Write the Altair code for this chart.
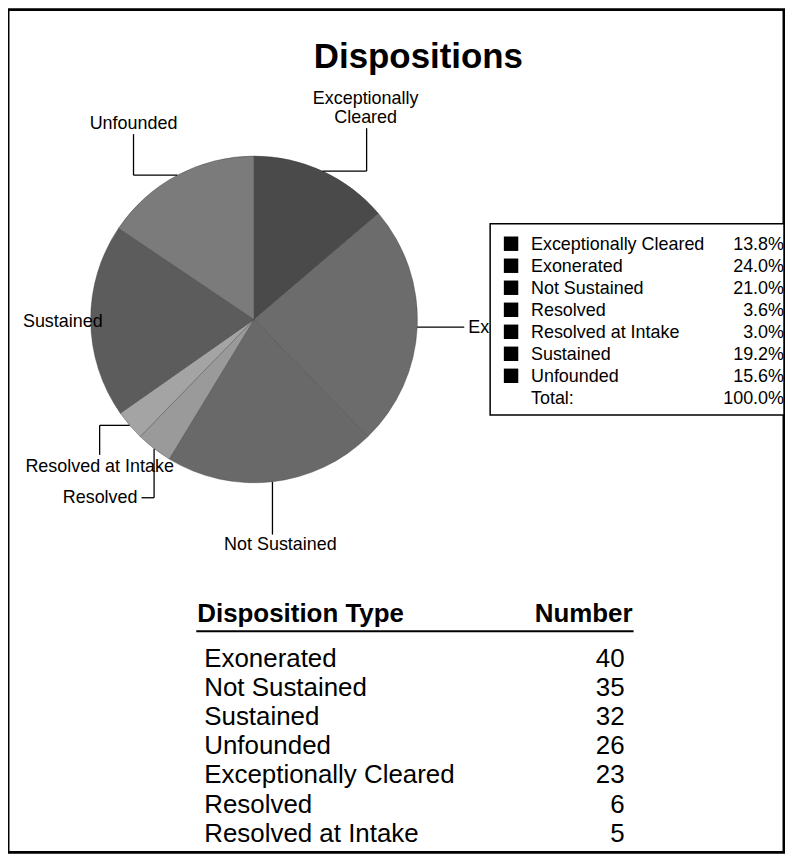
import altair as alt
import pandas as pd
import numpy as np

# ---------------- data ----------------
categories = ["Exceptionally Cleared", "Exonerated", "Not Sustained", "Resolved",
              "Resolved at Intake", "Sustained", "Unfounded"]
counts = [23, 40, 35, 6, 5, 32, 26]
shades = ["#4a4a4a", "#6c6c6c", "#696969", "#9a9a9a", "#a4a4a4", "#5c5c5c", "#7b7b7b"]
title_text = "Dispositions"
table_header = ["Disposition Type", "Number"]
total_label = "Total:"

# ---------------- layout ----------------
W, H = 779, 846
OFF = 8                      # page margin
FONT = "Liberation Sans"
CX, CY, R = 255 - OFF, 319 - OFF, 164

def P(v):
    return v - OFF

total = sum(counts)
pct = [c / total * 100 for c in counts]
cum = np.cumsum([0] + counts)
mid_deg = [(cum[i] + counts[i] / 2) / total * 360 for i in range(len(counts))]
edge = {}
for cat, a in zip(categories, mid_deg):
    r = np.radians(a)
    edge[cat] = (CX + R * np.sin(r), CY - R * np.cos(r))

# leader segments and label texts
segs = []
texts = []  # text, x, y, size, weight, align

def seg(a, b):
    segs.append({"x": a[0], "y": a[1], "x2": b[0], "y2": b[1]})

e = edge["Exceptionally Cleared"]
seg(e, (P(368), e[1])); seg((P(368), e[1]), (P(368), P(127)))
texts += [("Exceptionally", P(367), P(103), 18, "normal", "center"),
          ("Cleared", P(367), P(122), 18, "normal", "center")]

e = edge["Unfounded"]
seg(e, (P(134), e[1])); seg((P(134), e[1]), (P(134), P(133)))
texts.append(("Unfounded", P(134), P(128), 18, "normal", "center"))

e = edge["Exonerated"]
seg(e, (P(466), e[1]))
texts.append(("Exonerated", P(470), e[1] + 6, 18, "normal", "left"))

e = edge["Not Sustained"]
seg(e, (e[0], P(535)))
texts.append(("Not Sustained", e[0] + 8, P(550), 18, "normal", "center"))

texts.append(("Sustained", P(23), P(327), 18, "normal", "left"))

e = edge["Resolved at Intake"]
seg(e, (P(100), e[1])); seg((P(100), e[1]), (P(100), P(455)))
texts.append(("Resolved at Intake", P(100), P(472), 18, "normal", "center"))

e = edge["Resolved"]
seg(e, (e[0], P(498))); seg((e[0], P(498)), (P(142), P(498)))
texts.append(("Resolved", P(138), P(503), 18, "normal", "right"))

# legend box texts
leg_texts = []
leg_sq = []
for i, (cat, p) in enumerate(zip(categories, pct)):
    yc = P(243) + i * 22.1
    leg_sq.append({"x": P(513), "y": yc})
    leg_texts.append((cat, P(533), yc + 6.5, 18, "normal", "left"))
    leg_texts.append((f"{p:.1f}%", P(787), yc + 6.5, 18, "normal", "right"))
yt = P(243) + 7 * 22.1
leg_texts.append((total_label, P(533), yt + 6.5, 18, "normal", "left"))
leg_texts.append((f"{sum(pct):.1f}%", P(787), yt + 6.5, 18, "normal", "right"))

# title
title_rows = [(title_text, P(420), P(67), 35, "bold", "center")]

# table
order = sorted(range(len(categories)), key=lambda i: -counts[i])
tbl = [(table_header[0], P(198), P(623), 26, "bold", "left"),
       (table_header[1], P(635), P(623), 26, "bold", "right")]
for j, i in enumerate(order):
    yb = P(668) + j * 29.2
    tbl.append((categories[i], P(205), yb, 26, "normal", "left"))
    tbl.append((str(counts[i]), P(627), yb, 26, "normal", "right"))
segs_tbl = [{"x": P(197), "y": P(632), "x2": P(636), "y2": P(632)}]

all_texts = texts + leg_texts + title_rows + tbl
tdf = pd.DataFrame(all_texts, columns=["text", "x", "y", "size", "weight", "align"])

# ---------------- scales ----------------
XS = alt.Scale(domain=[0, W], nice=False, zero=False)
YS = alt.Scale(domain=[0, H], nice=False, zero=False, reverse=True)

def X(f="x"):
    return alt.X(f"{f}:Q", scale=XS, axis=None)

def Y(f="y"):
    return alt.Y(f"{f}:Q", scale=YS, axis=None)

# ---------------- layers ----------------
pie_df = pd.DataFrame({"category": categories, "count": counts, "idx": range(len(counts))})
pie = alt.Chart(pie_df).mark_arc(outerRadius=R, stroke="#3c3c3c", strokeWidth=0.4).encode(
    theta=alt.Theta("count:Q", stack=True),
    order=alt.Order("idx:Q"),
    color=alt.Color("category:N", scale=alt.Scale(domain=categories, range=shades), legend=None),
    x=alt.value(CX), y=alt.value(CY),
)

leaders = alt.Chart(pd.DataFrame(segs)).mark_rule(color="black", strokeWidth=1.3).encode(
    x=X(), y=Y(), x2="x2:Q", y2="y2:Q")

def text_layer(df, align, weight):
    sub = df[(df["align"] == align) & (df["weight"] == weight)]
    return alt.Chart(sub).mark_text(align=align, baseline="alphabetic", font=FONT,
                                    fontWeight=weight, color="black").encode(
        x=X(), y=Y(), text="text:N", size=alt.Size("size:Q", scale=None, legend=None))

pie_tdf = pd.DataFrame(texts, columns=tdf.columns)
pie_labels = [text_layer(pie_tdf, a, "normal") for a in ["left", "center", "right"]]

box = alt.Chart(pd.DataFrame([{"x": P(492), "y": P(223), "x2": W, "y2": P(415)}])).mark_rect(
    fill="white", stroke="black", strokeWidth=1.5).encode(x=X(), y=Y(), x2="x2:Q", y2="y2:Q")

squares = alt.Chart(pd.DataFrame(leg_sq)).mark_square(size=210, filled=True, color="black",
                                                       opacity=1).encode(x=X(), y=Y())

rest_df = pd.DataFrame(leg_texts + title_rows + tbl, columns=tdf.columns)
rest_layers = []
for a in ["left", "center", "right"]:
    for w in ["normal", "bold"]:
        if ((rest_df["align"] == a) & (rest_df["weight"] == w)).any():
            rest_layers.append(text_layer(rest_df, a, w))

underline = alt.Chart(pd.DataFrame(segs_tbl)).mark_rule(color="black", strokeWidth=2).encode(
    x=X(), y=Y(), x2="x2:Q", y2="y2:Q")

chart = alt.layer(pie, leaders, *pie_labels, box, squares, underline, *rest_layers).properties(
    width=W, height=H, padding=0
).configure_view(stroke="black", strokeWidth=3)

chart.save("out.html", embed_options={"renderer": "svg", "actions": False})
